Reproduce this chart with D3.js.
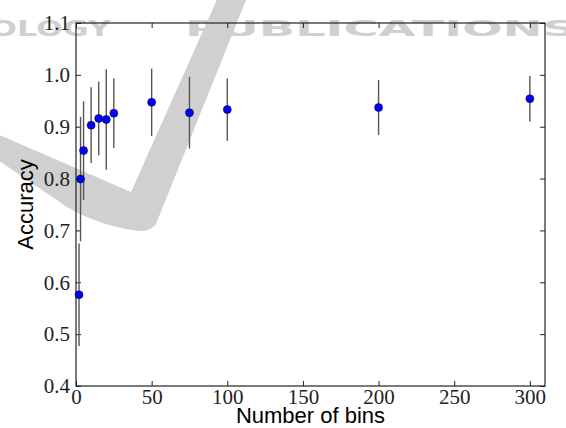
<!DOCTYPE html>
<html>
<head>
<meta charset="utf-8">
<script src="https://cdn.jsdelivr.net/npm/d3@7"></script>
<style>
  body { margin: 0; background: #fff; }
  svg { display: block; }
</style>
</head>
<body>
<svg id="chart" width="566" height="428"></svg>
<script>
// values
var binCounts = [2, 3, 5, 10, 15, 20, 25, 50, 75, 100, 200, 300];
var accuracy = [0.576, 0.799, 0.854, 0.903, 0.916, 0.914, 0.926, 0.947, 0.927, 0.933, 0.937, 0.954];
var accuracyErr = [0.099, 0.12, 0.095, 0.073, 0.071, 0.097, 0.067, 0.065, 0.069, 0.06, 0.053, 0.044];
var xTicks = [0, 50, 100, 150, 200, 250, 300];
var yTicks = [0.4, 0.5, 0.6, 0.7, 0.8, 0.9, 1.0, 1.1];

var width = 566, height = 428;
var margin = {top: 23, right: 21, bottom: 42, left: 76};
var w = width - margin.left - margin.right,
    h = height - margin.top - margin.bottom;

var svg = d3.select('#chart');

// publisher watermark behind everything
var mark = svg.append('g').attr('class', 'watermark');
mark.append('path')
    .attr('d', 'M-5,133 L131,192 L219,-5 L248,-5 L156,224 Q150,232 138,231 Q100,226 67,207 L-5,158 Z')
    .attr('fill', '#d0d0d0');
mark.append('text')
    .attr('x', -10).attr('y', 36)
    .attr('textLength', 121).attr('lengthAdjust', 'spacingAndGlyphs')
    .style('font', 'bold 21px "DejaVu Sans"')
    .attr('fill', '#d0d0d0')
    .text('OLOGY');
mark.append('text')
    .attr('x', 185).attr('y', 36)
    .attr('textLength', 392).attr('lengthAdjust', 'spacingAndGlyphs')
    .style('font', 'bold 21px "DejaVu Sans"')
    .attr('fill', '#d0d0d0')
    .text('PUBLICATIONS');

var x = d3.scaleLinear().domain([0, 310]).range([0, w]);
var y = d3.scaleLinear().domain([0.4, 1.1]).range([h, 0]);

var g = svg.append('g')
    .attr('transform', 'translate(' + margin.left + ',' + margin.top + ')');

var tickFont = '21px "Liberation Serif", "Times New Roman", serif';

// bottom and left axes carry labels, ticks point inward
var xAxis = g.append('g')
    .attr('transform', 'translate(0,' + h + ')')
    .call(d3.axisBottom(x).tickValues(xTicks).tickSizeInner(-5).tickSizeOuter(0).tickPadding(4));
var yAxis = g.append('g')
    .call(d3.axisLeft(y).tickValues(yTicks).tickFormat(d3.format('.1f')).tickSizeInner(-5).tickSizeOuter(0).tickPadding(6));
g.append('g')
    .call(d3.axisTop(x).tickValues(xTicks).tickSizeInner(-5).tickSizeOuter(0).tickFormat(''));
g.append('g')
    .attr('transform', 'translate(' + w + ',0)')
    .call(d3.axisRight(y).tickValues(yTicks).tickSizeInner(-5).tickSizeOuter(0).tickFormat(''));

g.selectAll('.domain').remove();
g.selectAll('.tick line').attr('stroke', '#222');
xAxis.selectAll('text').style('font', tickFont).attr('fill', '#222').attr('dy', '0.68em');
yAxis.selectAll('text').style('font', tickFont).attr('fill', '#222');

g.append('rect')
    .attr('x', 0).attr('y', 0)
    .attr('width', w).attr('height', h)
    .attr('fill', 'none')
    .attr('stroke', '#222')
    .attr('stroke-width', 1.2);

// error bars then markers
var pts = binCounts.map(function(b, i) {
  return {bins: b, acc: accuracy[i], err: accuracyErr[i]};
});

g.selectAll('line.err').data(pts).enter()
  .append('line').attr('class', 'err')
    .attr('x1', function(d) { return x(d.bins); })
    .attr('x2', function(d) { return x(d.bins); })
    .attr('y1', function(d) { return y(d.acc - d.err); })
    .attr('y2', function(d) { return y(d.acc + d.err); })
    .attr('stroke', '#555')
    .attr('stroke-width', 1.4);

g.selectAll('circle.pt').data(pts).enter()
  .append('circle').attr('class', 'pt')
    .attr('cx', function(d) { return x(d.bins); })
    .attr('cy', function(d) { return y(d.acc); })
    .attr('r', 4)
    .attr('fill', '#0000ff')
    .attr('stroke', '#000')
    .attr('stroke-width', 0.5);

var labelFont = '22px "Liberation Sans", Arial, sans-serif';

svg.append('text')
    .attr('x', margin.left + w / 2)
    .attr('y', 422.5)
    .attr('text-anchor', 'middle')
    .style('font', labelFont)
    .attr('fill', '#000')
    .text('Number of bins');

svg.append('text')
    .attr('transform', 'translate(33,' + (margin.top + h / 2) + ') rotate(-90)')
    .attr('text-anchor', 'middle')
    .style('font', labelFont)
    .attr('fill', '#000')
    .text('Accuracy');
</script>
</body>
</html>
